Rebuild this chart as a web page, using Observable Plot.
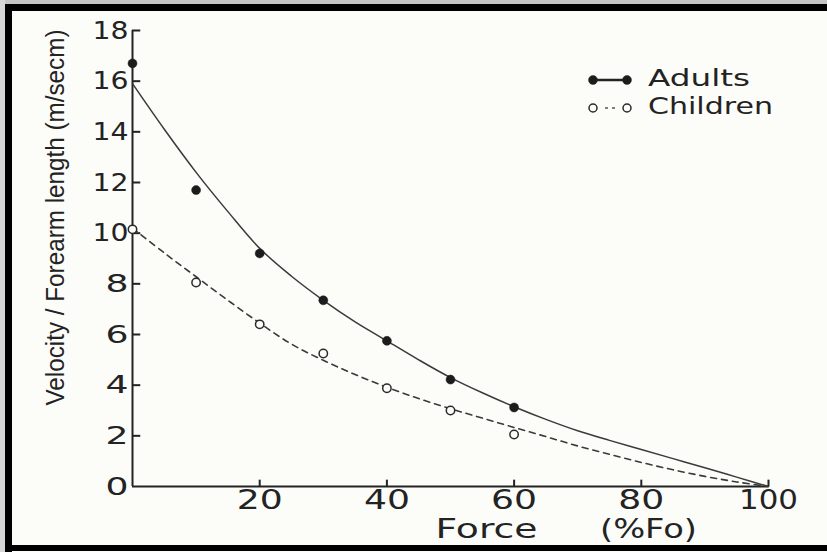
<!DOCTYPE html>
<html>
<head>
<meta charset="utf-8">
<script src="https://cdn.jsdelivr.net/npm/d3@7"></script>
<script src="https://cdn.jsdelivr.net/npm/@observablehq/plot@0.6"></script>
<style>
  html, body { margin: 0; padding: 0; background: #fcfcf9; }
  #wrap { position: relative; width: 827px; height: 552px; overflow: hidden; background: #fcfcf9; }
  #wrap svg { position: absolute; left: 0; top: 0; }
  .edge { position: absolute; }
</style>
</head>
<body>
<div id="wrap">
  <div class="edge" style="left:0;top:0;width:827px;height:4px;background:#c4c4c4"></div>
  <div class="edge" style="left:0;top:0;width:5px;height:552px;background:#d6d6d6"></div>
  <div class="edge" style="left:5px;top:4px;width:822px;height:7px;background:#000"></div>
  <div class="edge" style="left:5px;top:4px;width:7px;height:548px;background:#000"></div>
  <div class="edge" style="left:5px;top:545px;width:822px;height:6px;background:#000"></div>
</div>
<script>
// Measured points (Force in %Fo)
const force = [0, 10, 20, 30, 40, 50, 60];
const adultsV = [16.7, 11.7, 9.2, 7.35, 5.75, 4.22, 3.12];
const childrenV = [10.15, 8.05, 6.4, 5.25, 3.88, 3.0, 2.05];

// Fitted curves
const curveForce = [0, 5, 10, 15, 20, 25, 30, 35, 40, 45, 50, 55, 60, 65, 70, 75, 80, 85, 90, 95, 100];
const adultsFit = [15.9, 14.1, 12.4, 10.85, 9.4, 8.3, 7.35, 6.5, 5.75, 5.0, 4.3, 3.7, 3.15, 2.65, 2.2, 1.82, 1.46, 1.1, 0.74, 0.37, 0];
const childrenFit = [10.2, 9.22, 8.28, 7.35, 6.45, 5.62, 4.98, 4.42, 3.92, 3.47, 3.07, 2.7, 2.33, 1.97, 1.6, 1.27, 0.95, 0.66, 0.4, 0.18, 0];

// Ticks and labels
const yTicks = [0, 2, 4, 6, 8, 10, 12, 14, 16, 18];
const xTicks = [20, 40, 60, 80, 100];
const seriesNames = ["Adults", "Children"];
const yTitle = "Velocity / Forearm length (m/secm)";
const xTitleParts = ["Force", "(%Fo)"];

const adults = force.map((f, i) => ({force: f, v: adultsV[i]}));
const children = force.map((f, i) => ({force: f, v: childrenV[i]}));
const adultsCurve = curveForce.map((f, i) => ({force: f, v: adultsFit[i]}));
const childrenCurve = curveForce.map((f, i) => ({force: f, v: childrenFit[i]}));

const ink = "#232323";

const chart = Plot.plot({
  width: 827,
  height: 552,
  marginLeft: 132,
  marginRight: 59,
  marginTop: 30,
  marginBottom: 66,
  x: {domain: [0, 100]},
  y: {domain: [0, 18]},
  style: {background: "transparent", fontFamily: "DejaVu Sans", color: ink},
  marks: [
    Plot.axisY({ticks: yTicks, tickSize: 0, tickPadding: 4, fontSize: 25, label: null}),
    Plot.axisX({ticks: xTicks, tickSize: 0, tickPadding: 4, fontSize: 26, label: null}),
    Plot.ruleY(yTicks.filter(d => d > 0), {y: d => d, x1: 0, x2: 1.3, stroke: ink, strokeWidth: 2}),
    Plot.ruleX(xTicks, {x: d => d, y1: 0, y2: 0.25, stroke: ink, strokeWidth: 2}),
    Plot.ruleX([0], {stroke: ink, strokeWidth: 2}),
    Plot.ruleY([0], {stroke: ink, strokeWidth: 2}),
    Plot.line(adultsCurve, {x: "force", y: "v", curve: "catmull-rom", stroke: "#3a3a3a", strokeWidth: 1.5}),
    Plot.line(childrenCurve, {x: "force", y: "v", curve: "catmull-rom", stroke: "#3a3a3a", strokeWidth: 1.6, strokeDasharray: "6,5"}),
    Plot.dot(adults, {x: "force", y: "v", r: 4.5, fill: "#1c1c1c", stroke: "#1c1c1c", strokeWidth: 0.5}),
    Plot.dot(children, {x: "force", y: "v", r: 4.2, fill: "#fcfcf9", stroke: "#2a2a2a", strokeWidth: 1.5}),
    Plot.text([yTitle], {frameAnchor: "left", rotate: -90, dx: -77, dy: -41, lineAnchor: "middle",
      textAnchor: "middle", fontSize: 25, fontFamily: "Liberation Sans", fill: ink}),
    Plot.text([xTitleParts[0]], {frameAnchor: "bottom", dx: 36, dy: 51, lineAnchor: "bottom",
      textAnchor: "middle", fontSize: 26, fill: ink}),
    Plot.text([xTitleParts[1]], {frameAnchor: "bottom", dx: 198, dy: 51, lineAnchor: "bottom",
      textAnchor: "middle", fontSize: 26, fill: ink})
  ]
});

document.getElementById("wrap").insertBefore(chart, document.getElementById("wrap").firstChild);

// Widen the tick label glyphs to resemble the original wide lettering
chart.querySelectorAll('g[aria-label="y-axis tick label"] text, g[aria-label="x-axis tick label"] text').forEach(t => {
  const s = t.textContent;
  const w = [...s].reduce((a, c) => a + (c === "1" ? 13 : 23), 0);
  t.setAttribute("textLength", w);
  t.setAttribute("lengthAdjust", "spacingAndGlyphs");
});
chart.querySelectorAll('g[aria-label="text"] text').forEach(t => {
  const s = t.textContent;
  let w = null;
  if (s === yTitle) w = 376;
  else if (s === xTitleParts[0]) w = 102;
  else if (s === xTitleParts[1]) w = 97;
  if (w) { t.setAttribute("textLength", w); t.setAttribute("lengthAdjust", "spacingAndGlyphs"); }
});

// Legend
const svg = d3.select(chart);
const lg = svg.append("g").attr("class", "legend");
const rows = [
  {name: seriesNames[0], y: 80, filled: true, text: 102},
  {name: seriesNames[1], y: 108, filled: false, text: 125}
];
rows.forEach(r => {
  if (r.filled) {
    lg.append("line").attr("x1", 593).attr("x2", 627).attr("y1", r.y).attr("y2", r.y)
      .attr("stroke", ink).attr("stroke-width", 2.5);
  } else {
    lg.append("line").attr("x1", 605).attr("x2", 615).attr("y1", r.y).attr("y2", r.y)
      .attr("stroke", "#555").attr("stroke-width", 1.5).attr("stroke-dasharray", "3,4");
  }
  [593, 627].forEach(cx => {
    lg.append("circle").attr("cx", cx).attr("cy", r.y).attr("r", r.filled ? 4.5 : 4)
      .attr("fill", r.filled ? "#1c1c1c" : "#fcfcf9").attr("stroke", "#2a2a2a")
      .attr("stroke-width", r.filled ? 0.5 : 1.5);
  });
  lg.append("text").attr("x", 648).attr("y", r.y + 6)
    .attr("text-anchor", "start")
    .attr("font-family", "DejaVu Sans").attr("font-size", 23).attr("fill", ink)
    .attr("textLength", r.text).attr("lengthAdjust", "spacingAndGlyphs")
    .text(r.name);
});
</script>
</body>
</html>
